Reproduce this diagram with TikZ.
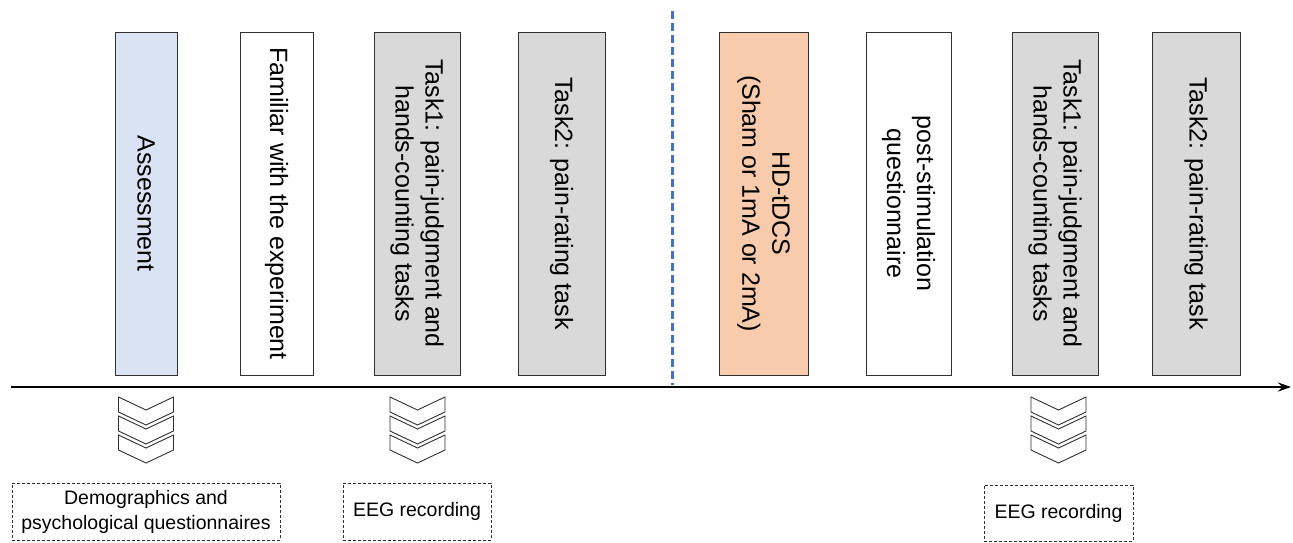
\documentclass[tikz,border=0pt]{standalone}
\usepackage{fontspec}
\setmainfont{Liberation Sans}
\usetikzlibrary{arrows.meta}
\definecolor{assessblue}{HTML}{DAE3F3}
\definecolor{stimorange}{HTML}{F8CBAD}
\definecolor{taskgray}{HTML}{D9D9D9}
\definecolor{splitblue}{HTML}{4472C4}
\definecolor{edge}{HTML}{303030}
\tikzset{
  phase/.style={draw=edge, line width=1pt, rotate=-90, minimum width=343pt,
    inner sep=0pt, align=center, font=\fontsize{25}{30}\selectfont},
  note/.style={draw=edge, line width=0.8pt, dash pattern=on 3pt off 2pt,
    inner sep=0pt, align=center, font=\fontsize{19.5}{25}\selectfont},
  chev/.style={draw=edge, line width=0.9pt, fill=white, line join=miter},
  timeline/.style={line width=2pt, -{Stealth[length=13pt,width=9pt]}},
  split/.style={splitblue, line width=3pt, dash pattern=on 8pt off 4pt}
}
\newcommand{\chevstack}[1]{%
  \foreach \yy in {397,416,435}{
    \draw[chev] (#1-27.5,\yy) -- (#1,\yy+13) -- (#1+27.5,\yy) -- (#1+27.5,\yy+15)
      -- (#1,\yy+28) -- (#1-27.5,\yy+15) -- cycle;
  }}
\begin{document}
\begin{tikzpicture}[x=1pt, y=-1pt]
  \useasboundingbox (0,0) rectangle (1293,542);

  % session phases, text read top to bottom
  \node[phase, fill=assessblue, minimum height=62pt] (assess) at (146,203.5) {Assessment};
  \node[phase, fill=white, minimum height=73pt] (familiar) at (276.5,203.5) {Familiar with the experiment};
  \node[phase, fill=taskgray, minimum height=86pt] (taskA) at (417,203.5) {Task1: pain-judgment and\\hands-counting tasks};
  \node[phase, fill=taskgray, minimum height=87pt] (taskB) at (561.5,203.5) {Task2: pain-rating task};
  \node[phase, fill=stimorange, minimum height=89pt] (stim) at (763.5,203.5) {HD-tDCS\\(Sham or 1mA or 2mA)};
  \node[phase, fill=white, minimum height=85pt] (post) at (908.5,203.5) {post-stimulation\\questionnaire};
  \node[phase, fill=taskgray, minimum height=86pt] (taskC) at (1055,203.5) {Task1: pain-judgment and\\hands-counting tasks};
  \node[phase, fill=taskgray, minimum height=88pt] (taskD) at (1196,203.5) {Task2: pain-rating task};

  % separator between baseline and stimulation sessions
  \coordinate (splittop) at (672,11);
  \coordinate (splitbot) at (672,385);
  \draw[split] (splittop) -- (splitbot);

  % time axis
  \coordinate (tstart) at (11,387);
  \coordinate (tend) at (1291,387);
  \draw[timeline] (tstart) -- (tend);

  % downward chevrons
  \chevstack{146}
  \chevstack{417.5}
  \chevstack{1058.5}

  % measurements
  \node[note, minimum width=268pt, minimum height=57pt] (demo) at (146,511.5) {Demographics and\\psychological questionnaires};
  \node[note, minimum width=148pt, minimum height=57pt] (eegA) at (417,511.5) {EEG recording};
  \node[note, minimum width=149pt, minimum height=56pt] (eegB) at (1058.5,513) {EEG recording};
\end{tikzpicture}
\end{document}
